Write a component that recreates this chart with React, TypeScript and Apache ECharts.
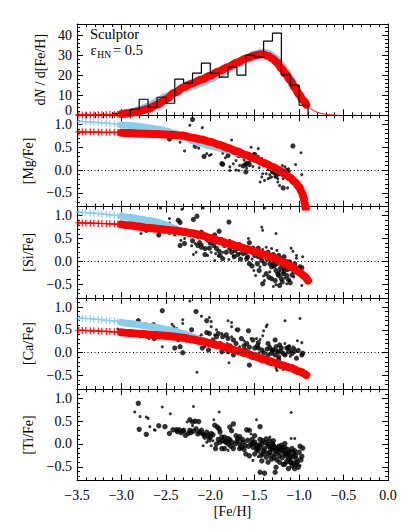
import React, { useEffect, useRef } from 'react';
import * as echarts from 'echarts';

const FONT = '"Liberation Serif", "Times New Roman", Times, serif';
const RED = '#ff0000';
const BLUE = '#87ceeb';
const PLUS = 'path://M0,4.2H10V5.8H0Z M4.2,0H5.8V10H4.2Z';

// ---------------- data ----------------
const histEdges = [-3.2, -3.1, -3.0, -2.9, -2.8, -2.7, -2.6, -2.5, -2.4, -2.3, -2.2, -2.1, -2.0, -1.9, -1.8, -1.7, -1.6, -1.5, -1.4, -1.3, -1.2, -1.1, -1.0, -0.9];
const histCounts = [0, 1, 0, 3, 8, 4, 9, 6, 18, 16, 21, 26, 21, 19, 24, 20, 30, 29, 37, 41, 20, 15, 5];

const sparseFeH = [-3.48, -3.44, -3.40, -3.35, -3.31, -3.26, -3.22, -3.17, -3.13, -3.08, -3.04, -3.00];

const mdfRedSparse = [0.2, 0.2, 0.2, 0.2, 0.25, 0.25, 0.3, 0.3, 0.35, 0.4, 0.5, 0.6];
const mdfRed = [[-3.0, 0.6], [-2.9, 1.2], [-2.8, 2.0], [-2.7, 3.2], [-2.6, 5.2], [-2.5, 8.0], [-2.4, 11.2], [-2.3, 14.0], [-2.2, 16.0], [-2.1, 17.8], [-2.0, 19.8], [-1.9, 22.0], [-1.8, 24.1], [-1.7, 26.3], [-1.6, 28.3], [-1.5, 29.8], [-1.42, 30.4], [-1.35, 29.6], [-1.3, 28.3], [-1.25, 26.3], [-1.2, 23.3], [-1.15, 20.5], [-1.1, 17.3], [-1.05, 13.8], [-1.0, 10.3], [-0.96, 7.6], [-0.92, 5.3]];
const mdfBlue = [[-3.0, 0.8], [-2.9, 1.6], [-2.8, 2.8], [-2.7, 4.6], [-2.6, 7.0], [-2.5, 9.5], [-2.4, 11.5], [-2.3, 13.0], [-2.2, 14.4], [-2.1, 16.0], [-2.0, 17.8], [-1.9, 20.0], [-1.8, 22.6], [-1.7, 25.4], [-1.6, 28.2], [-1.5, 30.5], [-1.42, 31.5], [-1.35, 31.0], [-1.3, 29.8], [-1.25, 28.0], [-1.2, 25.3], [-1.15, 22.3], [-1.1, 18.8], [-1.05, 15.0], [-1.0, 11.3], [-0.96, 8.5], [-0.92, 6.0]];
const mdfRedTail = [[-0.92, 5.3], [-0.88, 3.6], [-0.84, 2.4], [-0.8, 1.6], [-0.75, 0.9], [-0.7, 0.5], [-0.65, 0.25], [-0.6, 0.1], [-0.55, 0.0]];

const mgRedSparse = [0.835, 0.835, 0.834, 0.833, 0.832, 0.831, 0.83, 0.829, 0.828, 0.826, 0.824, 0.822];
const mgBlueSparse = [1.07, 1.065, 1.06, 1.055, 1.05, 1.04, 1.035, 1.03, 1.02, 1.015, 1.005, 1.0];
const mgRed = [[-3.0, 0.82], [-2.9, 0.81], [-2.8, 0.8], [-2.7, 0.795], [-2.6, 0.79], [-2.5, 0.78], [-2.4, 0.77], [-2.3, 0.75], [-2.2, 0.71], [-2.1, 0.67], [-2.0, 0.62], [-1.9, 0.555], [-1.8, 0.485], [-1.7, 0.41], [-1.6, 0.33], [-1.5, 0.25], [-1.4, 0.16], [-1.3, 0.075], [-1.22, -0.01], [-1.15, -0.1], [-1.1, -0.17], [-1.05, -0.26], [-1.0, -0.37], [-0.97, -0.49], [-0.95, -0.6], [-0.935, -0.72], [-0.925, -0.85]];
const mgBlue = [[-3.0, 0.99], [-2.9, 0.975], [-2.8, 0.955], [-2.7, 0.93], [-2.6, 0.9], [-2.5, 0.86], [-2.4, 0.8], [-2.3, 0.72], [-2.2, 0.64], [-2.1, 0.58], [-2.0, 0.53], [-1.9, 0.48], [-1.8, 0.44], [-1.7, 0.385], [-1.6, 0.32], [-1.5, 0.24], [-1.4, 0.155], [-1.3, 0.07], [-1.22, -0.015], [-1.15, -0.105], [-1.1, -0.175], [-1.05, -0.265], [-1.0, -0.375], [-0.97, -0.495], [-0.95, -0.605], [-0.935, -0.725], [-0.925, -0.855]];
const mgBig = [[-2.20, 1.11], [-2.31, 0.79], [-2.25, 0.74], [-2.46, 0.68], [-2.17, 0.52], [-1.95, 0.56], [-2.07, 0.30], [-1.80, 0.32], [-1.68, 0.32], [-1.63, 0.37], [-1.87, 0.14], [-1.86, 0.13], [-1.63, 0.09], [-1.60, 0.12], [-1.59, 0.15], [-1.56, 0.12], [-1.60, -0.04], [-1.37, 0.14], [-1.35, 0.09], [-1.33, 0.03], [-1.31, 0.07], [-1.29, 0.03], [-1.27, -0.01], [-1.26, -0.04], [-1.29, -0.04], [-1.26, -0.13], [-1.22, -0.08], [-1.14, -0.01], [-1.18, -0.39], [-1.07, 0.53], [-1.28, 0.0], [-1.24, 0.02], [-1.30, -0.02], [-1.50, 0.34], [-1.20, -0.03]];
const mgSmall = [[-2.23, 0.98], [-2.09, 0.93], [-2.34, 0.61], [-2.19, 0.64], [-2.29, 0.42], [-1.89, 0.50], [-1.76, 0.66], [-1.92, 0.45], [-2.04, 0.36], [-2.01, 0.32], [-1.99, 0.34], [-1.83, 0.27], [-1.68, 0.43], [-1.56, 0.36], [-1.51, 0.36], [-1.54, 0.50], [-1.46, 0.47], [-1.46, 0.30], [-1.71, 0.21], [-1.74, 0.14], [-1.78, 0.07], [-1.78, -0.01], [-1.67, 0.10], [-1.56, 0.18], [-1.52, 0.08], [-1.68, -0.01], [-1.42, 0.25], [-1.42, 0.14], [-1.40, 0.09], [-1.31, -0.04], [-1.37, -0.08], [-1.41, -0.08], [-1.33, -0.10], [-1.42, -0.15], [-1.44, -0.26], [-1.39, -0.23], [-1.35, -0.19], [-1.31, -0.15], [-1.27, -0.15], [-1.24, -0.19], [-1.24, -0.26], [-1.19, 0.10], [-1.16, 0.07], [-1.12, 0.03], [-1.11, -0.03], [-1.09, -0.12], [-1.14, -0.12], [-1.18, -0.19], [-1.13, -0.39], [-1.22, -0.34], [-1.09, -0.26], [-1.04, 0.12], [-0.97, -0.10], [-0.98, 0.38], [-1.49, 0.29], [-1.59, 0.04], [-1.71, 0.00], [-1.35, 0.01], [-1.25, 0.06], [-1.20, -0.10], [-1.16, -0.15], [-1.45, 0.05], [-1.62, 0.22], [-1.86, 0.37], [-2.13, 0.48], [-1.28, -0.07], [-1.21, 0.04], [-1.33, -0.17]];

const siRedSparse = [0.845, 0.843, 0.84, 0.838, 0.835, 0.832, 0.83, 0.826, 0.822, 0.818, 0.814, 0.81];
const siBlueSparse = [1.08, 1.075, 1.07, 1.06, 1.055, 1.045, 1.04, 1.03, 1.02, 1.01, 1.0, 0.99];
const siRed = [[-3.0, 0.81], [-2.9, 0.79], [-2.8, 0.76], [-2.7, 0.735], [-2.6, 0.715], [-2.5, 0.695], [-2.4, 0.675], [-2.3, 0.65], [-2.2, 0.615], [-2.1, 0.57], [-2.0, 0.51], [-1.9, 0.45], [-1.8, 0.39], [-1.7, 0.335], [-1.6, 0.275], [-1.5, 0.215], [-1.4, 0.15], [-1.3, 0.08], [-1.2, 0.0], [-1.1, -0.1], [-1.0, -0.23], [-0.95, -0.31], [-0.9, -0.42]];
const siBlue = [[-3.0, 0.99], [-2.9, 0.96], [-2.8, 0.93], [-2.7, 0.9], [-2.6, 0.86], [-2.5, 0.8], [-2.45, 0.76], [-2.4, 0.72], [-2.35, 0.68], [-2.3, 0.65], [-2.2, 0.61], [-2.1, 0.565], [-2.0, 0.505], [-1.9, 0.445], [-1.8, 0.385], [-1.7, 0.33], [-1.6, 0.27], [-1.5, 0.21], [-1.4, 0.145], [-1.3, 0.075], [-1.2, -0.005], [-1.1, -0.105], [-1.0, -0.235], [-0.95, -0.315], [-0.9, -0.425]];
const siBig = [[-2.15, 0.99], [-2.19, 0.92], [-2.36, 0.90], [-2.34, 0.85], [-1.79, 0.86], [-2.72, 0.68], [-2.53, 0.69], [-2.58, 0.58], [-2.31, 0.61], [-2.10, 0.64], [-2.05, 0.53], [-2.01, 0.50], [-1.99, 0.53], [-2.02, 0.46], [-1.95, 0.58], [-1.90, 0.66], [-2.34, 0.35], [-2.29, 0.39], [-2.14, 0.35], [-2.12, 0.41], [-2.10, 0.31], [-2.06, 0.28], [-2.01, 0.29], [-1.96, 0.35], [-1.93, 0.28], [-1.89, 0.13], [-1.84, 0.35], [-1.81, 0.41], [-1.75, 0.40], [-1.71, 0.35], [-1.69, 0.28], [-1.65, 0.26], [-1.62, 0.31], [-1.60, 0.20], [-1.56, 0.41], [-1.52, 0.29], [-1.50, 0.13], [-1.59, 0.06], [-1.56, -0.05], [-1.63, 0.17], [-1.69, 0.15], [-1.86, 0.06], [-1.46, 0.29], [-1.44, 0.20], [-1.40, 0.15], [-1.35, 0.20], [-1.34, 0.10], [-1.29, 0.15], [-1.26, 0.04], [-1.23, 0.13], [-1.22, 0.00], [-1.20, -0.05], [-1.17, 0.10], [-1.16, -0.12], [-1.14, -0.05], [-1.11, -0.01], [-1.09, -0.16], [-1.06, -0.22], [-1.29, -0.05], [-1.31, -0.12], [-1.37, -0.27], [-1.47, -0.05], [-1.39, -0.05], [-1.26, -0.20], [-1.24, -0.27], [-1.23, -0.31], [-1.20, -0.38], [-1.18, -0.27], [-1.14, -0.31], [-1.10, -0.47], [-1.22, -0.53], [-1.41, -0.49], [-1.31, -0.38], [-1.27, -0.42], [-1.05, -0.12], [-0.99, -0.12], [-0.97, -0.14], [-1.76, 0.20], [-1.72, 0.24], [-1.82, 0.20], [-2.06, 0.15], [-2.79, 0.81], [-1.45, 0.10], [-1.42, 0.02], [-1.36, 0.05], [-1.33, -0.05], [-1.28, -0.10], [-1.25, -0.05], [-1.21, -0.15], [-1.17, -0.22], [-1.13, -0.18], [-1.08, -0.30], [-1.12, -0.40], [-1.19, -0.45], [-1.34, -0.35], [-1.45, -0.20], [-1.53, -0.10], [-1.58, 0.10], [-1.66, 0.05], [-1.73, 0.10], [-1.78, 0.28], [-1.90, 0.22], [-2.00, 0.40], [-2.20, 0.45], [-1.05, -0.05], [-1.01, -0.25]];
const siSmall = [[-2.56, 1.17], [-2.32, 1.14], [-2.08, 1.17], [-1.39, 1.17], [-2.46, 0.94], [-2.46, 0.84], [-1.42, 0.75], [-1.41, 0.68], [-1.26, 0.61], [-1.09, 0.29], [-1.03, 0.07], [-2.51, 0.72], [-2.42, 0.66], [-2.40, 0.58], [-2.46, 0.61], [-2.29, 0.50], [-2.33, 0.46], [-2.08, 0.59], [-1.87, 0.50], [-2.21, 0.34], [-2.17, 0.39], [-1.94, 0.17], [-1.86, 0.20], [-1.78, 0.46], [-1.67, 0.39], [-1.57, 0.50], [-1.74, 0.12], [-1.79, 0.04], [-1.91, 0.12], [-2.19, 0.15], [-2.16, 0.20], [-1.41, 0.26], [-1.37, 0.31], [-1.31, 0.28], [-1.25, 0.24], [-1.14, 0.02], [-1.07, -0.09], [-1.33, -0.23], [-1.40, -0.32], [-1.44, -0.12], [-1.51, -0.20], [-1.49, -0.31], [-1.16, -0.37], [-1.11, -0.42], [-1.14, -0.49], [-1.26, -0.51], [-1.29, -0.55], [-1.39, -0.42], [-1.03, -0.23], [-0.97, -0.53], [-0.96, 0.10], [-1.07, 0.22], [-1.03, 0.13], [-1.67, 0.17], [-1.99, 0.20], [-2.03, 0.13], [-1.95, 0.02], [-2.09, 0.37], [-2.78, 0.61], [-1.20, 0.08], [-1.33, 0.02], [-1.47, 0.09], [-1.60, 0.30], [-1.53, 0.05], [-1.18, -0.18], [-1.22, -0.22], [-1.06, -0.34]];

const caRedSparse = [0.49, 0.488, 0.485, 0.482, 0.478, 0.474, 0.47, 0.466, 0.462, 0.457, 0.452, 0.447];
const caBlueSparse = [0.76, 0.755, 0.75, 0.742, 0.735, 0.727, 0.72, 0.71, 0.7, 0.69, 0.68, 0.67];
const caRed = [[-3.0, 0.445], [-2.9, 0.43], [-2.8, 0.415], [-2.7, 0.4], [-2.6, 0.385], [-2.5, 0.37], [-2.4, 0.35], [-2.3, 0.325], [-2.2, 0.29], [-2.1, 0.25], [-2.0, 0.205], [-1.9, 0.155], [-1.8, 0.1], [-1.7, 0.045], [-1.6, -0.015], [-1.5, -0.08], [-1.4, -0.145], [-1.3, -0.21], [-1.2, -0.27], [-1.1, -0.33], [-1.0, -0.41], [-0.92, -0.49]];
const caBlue = [[-3.0, 0.665], [-2.9, 0.64], [-2.8, 0.61], [-2.7, 0.58], [-2.6, 0.55], [-2.5, 0.515], [-2.4, 0.47], [-2.3, 0.42], [-2.2, 0.35], [-2.1, 0.27], [-2.0, 0.21], [-1.9, 0.155], [-1.8, 0.1]];
const caBig = [[-2.54, 0.92], [-2.16, 0.90], [-2.04, 0.70], [-2.04, 0.44], [-2.01, 0.42], [-1.91, 0.42], [-1.86, 0.35], [-1.82, 0.39], [-1.80, 0.31], [-1.74, 0.28], [-2.17, 0.31], [-2.21, 0.50], [-2.27, 0.28], [-2.31, 0.35], [-2.34, 0.37], [-2.36, 0.29], [-2.40, 0.10], [-2.34, 0.13], [-2.31, 0.00], [-2.64, 0.61], [-2.73, 0.61], [-2.76, 0.42], [-2.63, 0.31], [-2.79, 0.37], [-2.09, 0.10], [-2.02, 0.06], [-2.08, 0.28], [-1.97, 0.28], [-1.89, 0.20], [-1.87, 0.02], [-1.84, 0.13], [-1.69, 0.50], [-1.65, 0.31], [-1.59, 0.20], [-1.57, 0.48], [-1.52, 0.28], [-1.50, 0.10], [-1.56, 0.12], [-1.61, 0.06], [-1.63, 0.02], [-1.71, 0.20], [-1.46, 0.22], [-1.42, 0.06], [-1.35, 0.20], [-1.33, 0.10], [-1.31, -0.01], [-1.29, 0.06], [-1.27, 0.28], [-1.26, 0.13], [-1.24, 0.02], [-1.23, -0.09], [-1.22, 0.17], [-1.20, 0.10], [-1.18, -0.01], [-1.14, 0.10], [-1.12, 0.02], [-1.09, 0.06], [-1.03, -0.12], [-0.96, -0.01], [-0.97, -0.05], [-1.31, -0.16], [-1.38, -0.12], [-1.44, -0.10], [-1.48, -0.12], [-1.52, -0.09], [-1.56, -0.27], [-1.56, -0.05], [-1.59, 0.02], [-1.67, 0.06], [-1.74, -0.05], [-1.80, 0.02], [-2.81, 0.70], [-2.79, 0.41], [-2.74, 0.41], [-1.46, 0.10], [-1.40, 0.00], [-1.36, 0.08], [-1.30, 0.05], [-1.27, -0.05], [-1.21, 0.03], [-1.16, -0.05], [-1.12, 0.12], [-1.08, -0.02], [-1.05, 0.03], [-1.01, 0.05], [-1.23, -0.15], [-1.35, -0.05], [-1.47, 0.15], [-1.62, 0.15], [-1.78, 0.15], [-1.93, 0.35], [-2.12, 0.30], [-2.25, 0.35]];
const caSmall = [[-2.23, 1.13], [-2.10, 0.80], [-2.01, 0.77], [-1.99, 0.68], [-2.31, 0.72], [-2.31, 0.64], [-1.80, 0.70], [-1.76, 0.66], [-1.76, 0.57], [-1.71, 0.50], [-1.93, 0.50], [-1.99, 0.57], [-1.95, 0.39], [-1.87, 0.42], [-1.76, 0.35], [-2.10, 0.39], [-2.12, 0.35], [-2.24, 0.42], [-2.43, 0.62], [-2.41, 0.57], [-2.38, 0.53], [-2.54, 0.13], [-2.69, 0.31], [-2.06, 0.13], [-1.81, 0.20], [-1.79, -0.22], [-2.15, -0.43], [-1.62, 0.26], [-1.54, 0.31], [-1.48, 0.31], [-1.44, 0.29], [-1.41, 0.37], [-1.40, 0.48], [-1.37, 0.57], [-1.36, 0.61], [-1.67, 0.13], [-1.16, 0.20], [-1.11, 0.15], [-1.07, 0.13], [-1.05, 0.10], [-1.02, 0.26], [-0.97, 0.22], [-0.99, 0.75], [-1.16, 0.70], [-1.29, -0.23], [-1.26, -0.34], [-1.25, -0.39], [-1.18, -0.37], [-1.41, -0.20], [-3.04, 0.52], [-2.72, 0.34], [-1.25, 0.05], [-1.15, -0.05], [-1.33, 0.15], [-1.45, 0.00], [-1.10, -0.08]];

const tiBig = [[-2.81, 0.89], [-2.80, 0.32], [-2.72, 0.21], [-2.58, 0.40], [-2.51, 0.38], [-2.46, 0.23], [-2.42, 0.31], [-2.38, 0.31], [-2.35, 0.31], [-2.33, 0.25], [-2.30, 0.30], [-2.28, 0.19], [-2.25, 0.23], [-2.23, 0.30], [-2.23, 0.53], [-2.20, 0.48], [-2.17, 0.50], [-2.13, 0.49], [-2.16, 0.33], [-2.12, 0.26], [-2.09, 0.23], [-2.06, 0.15], [-2.04, 0.26], [-2.02, 0.19], [-2.01, 0.09], [-1.99, 0.23], [-1.95, 0.41], [-1.92, 0.37], [-1.90, 0.33], [-1.89, 0.26], [-1.94, -0.10], [-1.87, -0.10], [-1.86, 0.07], [-1.84, 0.15], [-1.82, 0.04], [-1.80, 0.00], [-1.78, 0.09], [-1.76, 0.04], [-1.74, 0.44], [-1.78, 0.37], [-1.76, 0.29], [-1.71, 0.18], [-1.69, 0.11], [-1.67, 0.16], [-1.67, 0.00], [-1.65, -0.07], [-1.63, 0.04], [-1.61, -0.03], [-1.59, 0.31], [-1.56, 0.30], [-1.54, 0.00], [-1.52, -0.07], [-1.50, 0.04], [-1.48, -0.03], [-1.46, -0.15], [-1.44, 0.38], [-1.50, -0.22], [-1.56, -0.26], [-1.60, -0.22], [-1.44, -0.07], [-1.42, 0.00], [-1.41, 0.07], [-1.39, -0.10], [-1.37, 0.11], [-1.35, 0.00], [-1.33, 0.07], [-1.33, -0.18], [-1.31, -0.07], [-1.29, -0.03], [-1.27, -0.22], [-1.26, -0.15], [-1.24, -0.10], [-1.22, -0.26], [-1.20, -0.03], [-1.18, -0.15], [-1.16, 0.01], [-1.14, -0.22], [-1.12, -0.33], [-1.11, -0.22], [-1.09, -0.40], [-1.07, -0.28], [-1.05, -0.15], [-1.03, -0.33], [-1.01, -0.51], [-1.05, -0.54], [-0.96, -0.09], [-0.97, -0.27], [-1.03, -0.45], [-1.12, -0.54], [-1.16, -0.44], [-1.22, -0.40], [-1.26, -0.51], [-1.27, -0.62], [-1.39, -0.64], [-1.44, -0.62], [-1.35, -0.40], [-1.31, -0.33], [-1.37, -0.29], [-1.42, -0.37], [-1.41, -0.22], [-1.50, 0.18], [-1.29, 0.07], [-1.67, -0.10], [-1.74, -0.10], [-1.84, -0.10], [-1.87, 0.15], [-1.89, 0.04], [-1.93, 0.00], [-1.35, -0.05], [-1.30, -0.12], [-1.23, -0.18], [-1.19, -0.08], [-1.13, -0.12], [-1.10, -0.30], [-1.06, -0.20], [-1.47, -0.08], [-1.40, -0.15], [-1.28, -0.30], [-1.15, -0.25], [-1.58, 0.08], [-1.62, -0.12], [-1.70, 0.06], [-1.80, 0.12], [-1.97, 0.20], [-2.10, 0.30], [-2.19, 0.28], [-1.53, 0.10], [-1.44, 0.10], [-1.45, -0.02], [-1.38, 0.03], [-1.32, -0.10], [-1.27, -0.08], [-1.21, -0.12], [-1.17, -0.20], [-1.12, -0.18], [-1.08, -0.10], [-1.04, -0.25], [-1.00, -0.18], [-0.98, -0.35], [-1.02, -0.40], [-1.08, -0.48], [-1.14, -0.38], [-1.19, -0.30], [-1.25, -0.35], [-1.32, -0.25], [-1.36, -0.20], [-1.43, -0.25], [-1.48, -0.12], [-1.52, 0.02], [-1.57, -0.05], [-1.64, 0.10], [-1.72, 0.00], [-1.77, -0.05], [-1.83, 0.05], [-1.91, 0.10], [-2.00, 0.15], [-2.07, 0.20], [-2.14, 0.22], [-2.22, 0.25], [-2.31, 0.28], [-2.37, 0.27], [-1.18, -0.45], [-1.10, -0.40], [-1.06, -0.42], [-0.99, -0.05], [-1.30, 0.00], [-1.23, -0.05], [-1.16, -0.08]];
const tiSmall = [[-2.54, 0.81], [-2.45, 0.66], [-2.19, 0.82], [-1.90, 0.70], [-1.09, 0.69], [-1.48, 0.53], [-2.72, 0.59], [-2.79, 0.60], [-2.63, 0.31], [-2.26, 0.48], [-2.20, 0.40], [-1.96, 0.53], [-1.46, -0.28], [-1.09, -0.15], [-0.99, -0.47], [-1.09, 0.12], [-1.05, 0.12], [-1.52, -0.36], [-1.54, 0.22], [-1.33, 0.15], [-1.80, -0.14], [-1.97, 0.07], [-2.04, 0.04], [-2.08, -0.04], [-1.99, -0.04], [-2.85, 0.70], [-2.68, 0.38], [-2.62, 0.30], [-2.70, 0.56]];

const panelNames = ['', '[Mg/Fe]', '[Si/Fe]', '[Ca/Fe]', '[Ti/Fe]'];

// ---------------- layout ----------------
const GRID_LEFT = 77;
const GRID_RIGHT = 23;
const GRID_TOP = 24;
const GRID_H = 91.3;

const fmt = (v: number, d: number) => {
  const s = (Math.abs(v) < 1e-9 ? 0 : v).toFixed(d);
  return s.replace('-', '\u2212');
};

const axisLineStyle = { color: '#000', width: 1 };

function buildXAxes() {
  const arr: any[] = [];
  for (let i = 0; i < 5; i++) {
    for (const pos of ['bottom', 'top']) {
      const labelled = i === 4 && pos === 'bottom';
      arr.push({
        type: 'value', gridIndex: i, position: pos, min: -3.5, max: 0, interval: 0.5,
        axisLine: { show: true, onZero: false, lineStyle: axisLineStyle },
        axisTick: { show: true, inside: true, length: 6, lineStyle: axisLineStyle },
        minorTick: { show: true, splitNumber: 5, length: 3, lineStyle: axisLineStyle },
        splitLine: { show: false },
        minorSplitLine: { show: false },
        axisLabel: { show: labelled, formatter: (v: number) => fmt(v, 1), fontFamily: FONT, fontSize: 14, color: '#000', margin: 8 },
        name: labelled ? '[Fe/H]' : '',
        nameLocation: 'middle', nameGap: 24,
        nameTextStyle: { fontFamily: FONT, fontSize: 14, color: '#000' },
      });
    }
  }
  return arr;
}

function buildYAxes() {
  const arr: any[] = [];
  for (let i = 0; i < 5; i++) {
    const top = i === 0;
    const min = top ? 0 : -0.8;
    const max = top ? 45.5 : 1.2;
    const minorInt = top ? 2 : 0.1;
    const majors = top ? [0, 10, 20, 30, 40] : [-0.5, 0, 0.5, 1.0];
    const labelFmt = top
      ? (v: number) => (Math.abs(v % 10) < 1e-6 ? (v === 0 ? '{z|0}' : String(v)) : '')
      : (v: number) => (Math.abs(v * 2 - Math.round(v * 2)) < 1e-6 ? fmt(v, 1) : '');
    for (const pos of ['left', 'right']) {
      arr.push({
        type: 'value', gridIndex: i, position: pos, min, max, interval: minorInt,
        axisLine: { show: true, onZero: false, lineStyle: axisLineStyle },
        axisTick: { show: true, inside: true, length: 3, lineStyle: axisLineStyle },
        splitLine: { show: false },
        axisLabel: {
          show: pos === 'left', formatter: labelFmt, fontFamily: FONT, fontSize: 14, color: '#000', margin: 5,
          rich: { z: { fontFamily: FONT, fontSize: 14, color: '#000', padding: [0, 0, 10, 0] } },
        },
        name: pos === 'left' ? (top ? '{n|d}{i|N}{n| / d[Fe/H]}' : panelNames[i]) : '',
        nameLocation: 'middle', nameRotate: 90, nameGap: top ? 27.5 : 38,
        nameTextStyle: {
          fontFamily: FONT, fontSize: 14, color: '#000',
          rich: {
            n: { fontFamily: FONT, fontSize: 14, color: '#000' },
            i: { fontFamily: FONT, fontSize: 14, color: '#000', fontStyle: 'italic' },
          },
        },
      });
      arr.push({
        type: 'value', gridIndex: i, position: pos, min, max,
        axisLine: { show: false, onZero: false },
        axisTick: { show: true, inside: true, length: 6, customValues: majors, lineStyle: axisLineStyle },
        splitLine: { show: false },
        axisLabel: { show: false },
      });
    }
  }
  return arr;
}

const sparse = (ys: number[]) => sparseFeH.map((x, k) => [x, ys[k]]);

function sparseSeries(i: number, ys: number[], color: string, extra: any = {}) {
  return {
    type: 'line', xAxisIndex: 2 * i, yAxisIndex: 4 * i, data: sparse(ys),
    showSymbol: true, symbol: PLUS, symbolSize: 7,
    itemStyle: { color }, lineStyle: { color, width: 1.2 }, silent: true,
    ...extra,
  };
}
function bandSeries(i: number, data: number[][], color: string, width: number) {
  return {
    type: 'line', xAxisIndex: 2 * i, yAxisIndex: 4 * i, data,
    showSymbol: false, smooth: 0.3, smoothMonotone: 'x',
    lineStyle: { color, width, cap: 'round', join: 'round' }, silent: true,
  };
}
function dotSeries(i: number, data: number[][], size: number) {
  return {
    type: 'scatter', xAxisIndex: 2 * i, yAxisIndex: 4 * i, data,
    symbol: 'circle', symbolSize: size, itemStyle: { color: '#000' }, silent: true,
  };
}
const zeroLine = {
  silent: true, symbol: ['none', 'none'], label: { show: false },
  lineStyle: { type: [1, 2.5], color: '#000', width: 1 },
  data: [{ yAxis: 0 }],
};

function buildSeries() {
  const s: any[] = [];
  s.push(bandSeries(0, mdfBlue, BLUE, 7));
  s.push(sparseSeries(0, mdfRedSparse, RED));
  s.push(bandSeries(0, mdfRed, RED, 8));
  s.push({
    type: 'line', xAxisIndex: 0, yAxisIndex: 0, data: mdfRedTail, showSymbol: false, smooth: 0.3,
    lineStyle: { color: RED, width: 1 }, silent: true,
  });
  s.push({
    type: 'line', xAxisIndex: 0, yAxisIndex: 0, step: 'end', showSymbol: false, silent: true,
    data: histEdges.map((e, k) => [e, k < histCounts.length ? histCounts[k] : 0]),
    lineStyle: { color: '#000', width: 1.2 },
  });
  const panels = [
    { rs: mgRedSparse, bs: mgBlueSparse, r: mgRed, b: mgBlue, big: mgBig, small: mgSmall },
    { rs: siRedSparse, bs: siBlueSparse, r: siRed, b: siBlue, big: siBig, small: siSmall },
    { rs: caRedSparse, bs: caBlueSparse, r: caRed, b: caBlue, big: caBig, small: caSmall },
  ];
  panels.forEach((p, k) => {
    const i = k + 1;
    s.push(sparseSeries(i, p.bs, BLUE, { markLine: zeroLine }));
    s.push(bandSeries(i, p.b, BLUE, 7));
    s.push(sparseSeries(i, p.rs, RED));
    s.push(bandSeries(i, p.r, RED, 8));
    s.push(dotSeries(i, p.small, 3));
    s.push(dotSeries(i, p.big, 5.2));
  });
  s.push(dotSeries(4, tiSmall, 3));
  s.push(dotSeries(4, tiBig, 5.4));
  return s;
}

function buildOption(): any {
  return {
    animation: false,
    backgroundColor: '#fff',
    textStyle: { fontFamily: FONT },
    grid: [0, 1, 2, 3, 4].map((i) => ({
      left: GRID_LEFT, right: GRID_RIGHT, top: GRID_TOP + i * GRID_H, height: GRID_H,
      containLabel: false, outerBoundsMode: 'none',
    })),
    xAxis: buildXAxes(),
    yAxis: buildYAxes(),
    series: buildSeries(),
    graphic: [
      { type: 'text', x: 90, y: 34, silent: true, style: { text: 'Sculptor', fontFamily: FONT, fontSize: 14.5, fill: '#000', verticalAlign: 'middle', align: 'left' } },
      { type: 'text', x: 90.5, y: 50, silent: true, style: { text: '\u03b5', fontFamily: FONT, fontSize: 14.5, fill: '#000', verticalAlign: 'middle', align: 'left' } },
      { type: 'text', x: 97.3, y: 54.5, silent: true, style: { text: 'HN', fontFamily: FONT, fontSize: 9.5, fill: '#000', verticalAlign: 'middle', align: 'left' } },
      { type: 'text', x: 113, y: 50, silent: true, style: { text: '= 0.5', fontFamily: FONT, fontSize: 14.5, fill: '#000', verticalAlign: 'middle', align: 'left' } },
    ],
  };
}

export default function App() {
  const ref = useRef<HTMLDivElement>(null);
  useEffect(() => {
    if (!ref.current) return;
    const chart = echarts.init(ref.current, undefined, { renderer: 'svg' });
    chart.setOption(buildOption());
    return () => chart.dispose();
  }, []);
  return (
    <div
      ref={ref}
      style={{ position: 'fixed', left: 0, top: 0, width: 411, height: 529, background: '#fff' }}
    />
  );
}
